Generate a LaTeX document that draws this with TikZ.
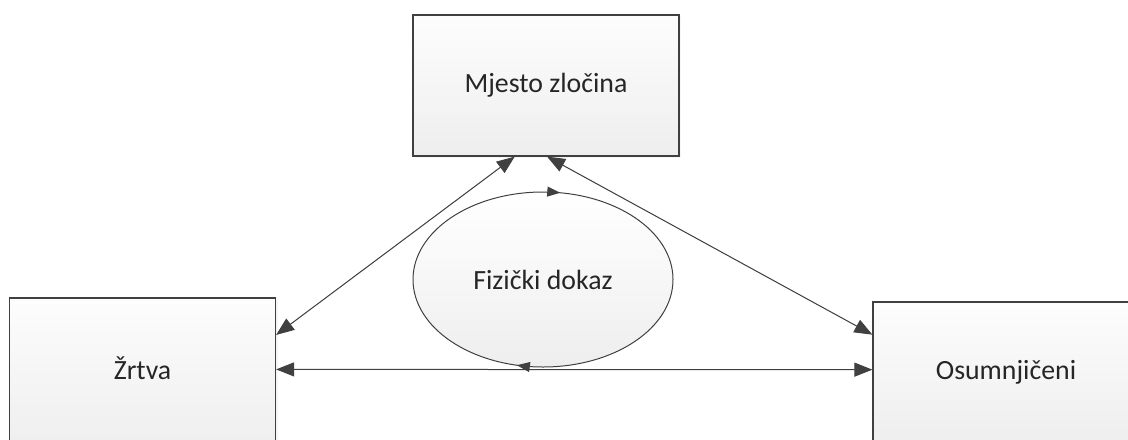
\documentclass[tikz,border=0pt]{standalone}
\usepackage{fontspec}
\setmainfont{Carlito}
\usepackage{tikz}
\usetikzlibrary{calc}
\usetikzlibrary{positioning}
\usetikzlibrary{shapes.geometric}
\usetikzlibrary{arrows.meta}
\usetikzlibrary{decorations.markings}
\usetikzlibrary{shadows}

\definecolor{linegray}{HTML}{404040}
\definecolor{boxtop}{HTML}{FDFDFD}
\definecolor{boxbottom}{HTML}{EEEEEE}

\begin{document}
\begin{tikzpicture}
		[
		x=0.5pt, y=-0.5pt,
		font=\fontsize{13.9}{16}\selectfont,
		]
		
		% Box and ellipse styles
		\tikzstyle{box}=[rectangle,draw=linegray,line width=0.6pt,top color=boxtop,bottom color=boxbottom,
			minimum width=133pt,minimum height=70.5pt,inner sep=0,text=black!85,
			drop shadow={opacity=0.08,shadow xshift=1.2pt,shadow yshift=-1.2pt}];
		\tikzstyle{proof}=[ellipse,top color=white,bottom color=boxbottom,
			minimum width=130pt,minimum height=87.5pt,inner sep=0,text=black!85];
		\tikzstyle{link}=[{Triangle[length=9pt,width=7pt]}-{Triangle[length=9pt,width=7pt]},draw=linegray,fill=linegray,line width=0.5pt];
		
		\useasboundingbox (0,0) rectangle (1128,439);
		
		% The three sides
		\node[box] (scene) at (546,85.5) {Mjesto zločina};
		\node[box,minimum height=76pt,text depth=5.5pt] (victim) at (142.5,374) {Žrtva};
		\node[box] (suspect) at (1006,372.5) {Osumnjičeni};
		
		% Evidence in the middle
		\node[proof] (evidence) at (543,279.5) {Fizički dokaz};
		\draw[linegray,line width=0.5pt,
			decoration={markings,
				mark=at position 0.288 with {\arrow{Triangle[length=6.5pt,width=5pt]}},
				mark=at position 0.775 with {\arrow{Triangle[length=6.5pt,width=5pt]}}},
			postaction={decorate}]
			(evidence.center) ellipse [x radius=130, y radius=87.5];
		
		% Connections
		\draw[link] ($(scene.south west)!0.383!(scene.south east)$) -- ($(victim.north east)!0.245!(victim.south east)$);
		\draw[link] ($(scene.south west)!0.504!(scene.south east)$) -- ($(suspect.north west)!0.234!(suspect.south west)$);
		\draw[link] ($(victim.north east)!0.47!(victim.south east)$) -- ($(suspect.north west)!0.48!(suspect.south west)$);
		\end{tikzpicture}
\end{document}
